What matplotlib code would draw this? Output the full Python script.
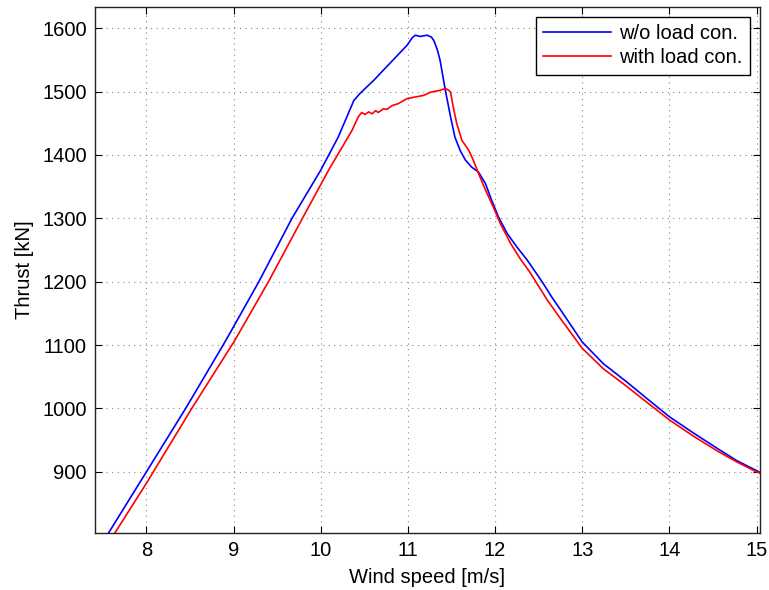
import matplotlib
matplotlib.use("Agg")
import matplotlib.pyplot as plt

plt.rcParams['font.family'] = ['Liberation Sans', 'DejaVu Sans']

# wind speed [m/s] and thrust [kN]
windNoLoad = [7.50, 8.00, 8.45, 8.88, 9.00, 9.29, 9.67, 10.00, 10.20, 10.38, 10.45,
              10.61, 10.72, 10.99, 11.05, 11.085, 11.14, 11.22, 11.27, 11.30, 11.34,
              11.37, 11.43, 11.49, 11.54, 11.60, 11.66, 11.73, 11.81, 11.89, 11.96,
              12.04, 12.14, 12.25, 12.37, 12.54, 12.65, 12.75, 13.00, 13.24, 13.51,
              13.74, 14.00, 14.28, 14.55, 14.77, 15.00, 15.04]
thrustNoLoad = [789, 900, 1000, 1100, 1129, 1200, 1300, 1376, 1428, 1486, 1497,
                1518, 1534, 1573, 1585, 1589, 1587, 1589, 1586, 1580, 1565,
                1549, 1502, 1460, 1428, 1407, 1392, 1381, 1373, 1355, 1329,
                1302, 1276, 1255, 1234, 1200, 1176, 1156, 1105, 1071, 1042,
                1016, 987, 961, 937, 918, 902, 899]

windLoad = [7.55, 7.64, 8.00, 8.52, 8.98, 9.00, 9.40, 9.79, 10.09, 10.36, 10.43,
            10.47, 10.51, 10.55, 10.59, 10.63, 10.66, 10.72, 10.76, 10.82, 10.89,
            10.99, 11.18, 11.26, 11.37, 11.43, 11.47, 11.49, 11.52, 11.56, 11.62,
            11.70, 11.75, 11.81, 11.89, 11.98, 12.06, 12.18, 12.29, 12.40, 12.50,
            12.60, 12.75, 13.00, 13.24, 13.51, 13.74, 14.00, 14.28, 14.55, 14.77,
            15.00, 15.04]
thrustLoad = [786, 804, 882, 1000, 1100, 1104, 1200, 1300, 1376, 1439, 1460,
              1467, 1464, 1468, 1465, 1470, 1467, 1473, 1472, 1478, 1481,
              1489, 1494, 1499, 1502, 1505, 1502, 1499, 1476, 1450, 1423,
              1407, 1392, 1371, 1345, 1318, 1292, 1260, 1236, 1215, 1193,
              1171, 1142, 1095, 1063, 1035, 1010, 982, 956, 933, 916,
              900, 898]

xTicks = [8, 9, 10, 11, 12, 13, 14, 15]
yTicks = [900, 1000, 1100, 1200, 1300, 1400, 1500, 1600]

fig = plt.figure(figsize=(7.69, 5.90), dpi=100)
ax = fig.add_axes([0.1235, 0.0971, 0.8648, 0.8905])

ax.plot(windNoLoad, thrustNoLoad, color='#0000ff', lw=1.2, label='w/o load con.')
ax.plot(windLoad, thrustLoad, color='#ff0000', lw=1.2, label='with load con.')

ax.set_xlim(7.41, 15.04)
ax.set_ylim(804, 1633)
ax.set_xticks(xTicks)
ax.set_yticks(yTicks)

ax.grid(True, linestyle=(0, (1, 4)), color='#888888', lw=0.8)
ax.tick_params(direction='in', top=True, right=True, length=5, labelsize=14.5, pad=6)
for s in ax.spines.values():
    s.set_linewidth(1.0)
    s.set_color('#222222')

ax.set_xlabel('Wind speed [m/s]', fontsize=14.5, labelpad=6)
ax.set_ylabel('Thrust [kN]', fontsize=14.5, labelpad=6)

leg = ax.legend(loc='upper right', fontsize=14.5, fancybox=False, framealpha=1,
                edgecolor='black', handlelength=3.4, borderaxespad=0.5,
                handletextpad=0.4, labelspacing=0.25, borderpad=0.35)
leg.get_frame().set_linewidth(1.0)

fig.savefig('out.png', dpi=100)
